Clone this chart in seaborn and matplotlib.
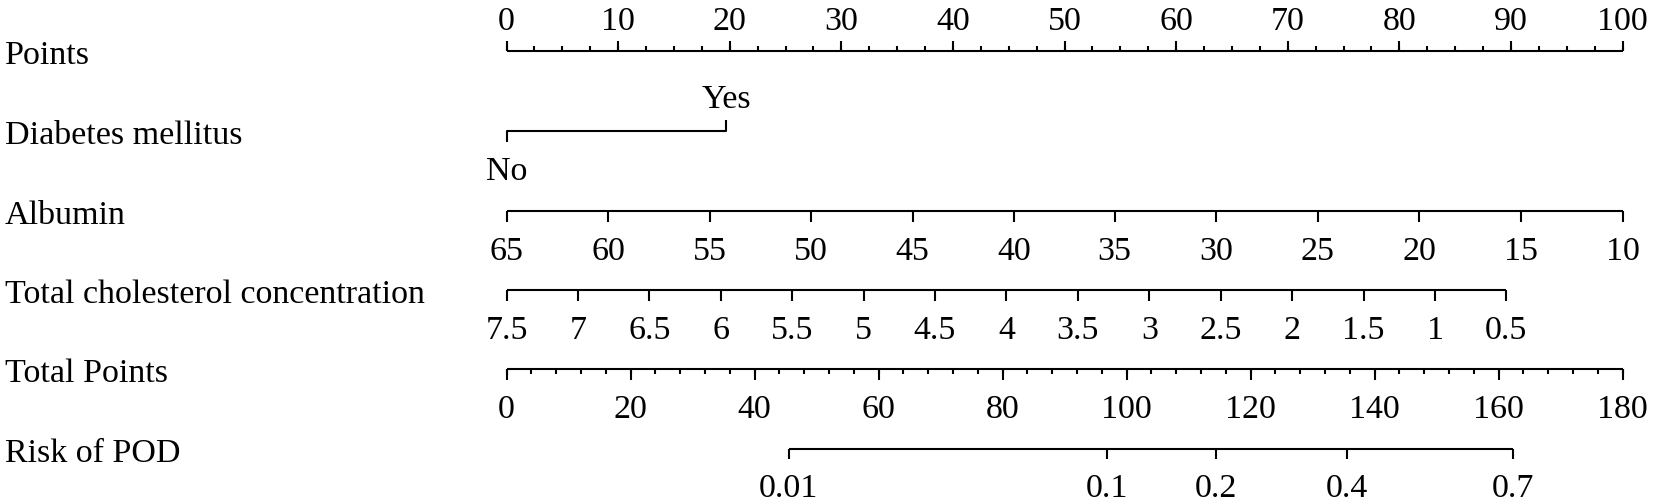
import matplotlib
matplotlib.use("Agg")
import matplotlib.pyplot as plt
import matplotlib.transforms as mtransforms
import seaborn as sns
import numpy as np

# nomogram values
row_names = ["Points", "Diabetes mellitus", "Albumin",
             "Total cholesterol concentration", "Total Points", "Risk of POD"]

points_ticks = [0, 10, 20, 30, 40, 50, 60, 70, 80, 90, 100]

diabetes_levels = ["No", "Yes"]
diabetes_points = [0, 19.7]

albumin_ticks = [65, 60, 55, 50, 45, 40, 35, 30, 25, 20, 15, 10]
albumin_points = [0, 9.1, 18.2, 27.3, 36.4, 45.5, 54.5, 63.6, 72.7, 81.8, 90.9, 100]

chol_ticks = [7.5, 7, 6.5, 6, 5.5, 5, 4.5, 4, 3.5, 3, 2.5, 2, 1.5, 1, 0.5]
chol_points = [0, 6.4, 12.8, 19.2, 25.6, 32.0, 38.4, 44.8, 51.2, 57.6, 64.0,
               70.4, 76.8, 83.2, 89.6]

total_ticks = [0, 20, 40, 60, 80, 100, 120, 140, 160, 180]

risk_ticks = [0.01, 0.1, 0.2, 0.4, 0.7]
risk_total_points = [45.5, 96.9, 114.4, 135.5, 162.4]

sns.set_theme(style="white")
plt.rcParams['font.family'] = ['Liberation Serif', 'DejaVu Serif']

W, H = 1654, 502
fig = plt.figure(figsize=(W / 100, H / 100), dpi=100)
ax = fig.add_axes([0, 0, 1, 1])
x0, ppx = 506.5, 11.16   # pixel of 0 points, pixels per point
ax.set_xlim(-x0 / ppx, (W - x0) / ppx)
ax.set_ylim(H, 0)
ax.axis("off")

fs = 24.5
lw = 1.5
col = "black"
row_y = [52, 132, 212, 291, 370, 449.5]
lab_tr = mtransforms.blended_transform_factory(ax.transAxes, ax.transData)

for name, y in zip(row_names, row_y):
    ax.text(5 / W, y + 12.5, name, transform=lab_tr, fontsize=fs,
            ha="left", va="baseline", color=col)


def scale(xs, labels, y, up=False, minor=None):
    xs = np.asarray(xs, dtype=float)
    ax.plot([xs.min(), xs.max()], [y, y], color=col, lw=lw,
            solid_capstyle="butt")
    d = -1 if up else 1
    if minor is not None:
        ax.vlines(minor, y, y + d * 5, color=col, lw=lw)
    ax.vlines(xs, y, y + d * 10.5, color=col, lw=lw)
    for x, t in zip(xs, labels):
        ty = y - 22 if up else y + 48
        ax.text(x, ty, t, fontsize=fs, ha="center", va="baseline", color=col)


# Points
scale(points_ticks, [str(v) for v in points_ticks], row_y[0], up=True,
      minor=np.arange(0, 100.1, 2.5))

# Diabetes mellitus
y = row_y[1]
ax.plot(diabetes_points, [y, y], color=col, lw=lw)
ax.vlines(diabetes_points[0], y, y + 11, color=col, lw=lw)
ax.vlines(diabetes_points[1], y, y - 11, color=col, lw=lw)
ax.text(diabetes_points[0], y + 48, diabetes_levels[0], fontsize=fs,
        ha="center", va="baseline", color=col)
ax.text(diabetes_points[1], y - 24, diabetes_levels[1], fontsize=fs,
        ha="center", va="baseline", color=col)

# Albumin
scale(albumin_points, [str(v) for v in albumin_ticks], row_y[2])

# Total cholesterol
scale(chol_points, ["%g" % v for v in chol_ticks], row_y[3])

# Total points (0-180 mapped onto the 0-100 points width)
tp = 100 / 180
scale([v * tp for v in total_ticks], [str(v) for v in total_ticks], row_y[4],
      minor=np.arange(0, 180.1, 4) * tp)

# Risk
scale([v * tp for v in risk_total_points], ["%g" % v for v in risk_ticks],
      row_y[5])

fig.savefig("out.png", dpi=100)
